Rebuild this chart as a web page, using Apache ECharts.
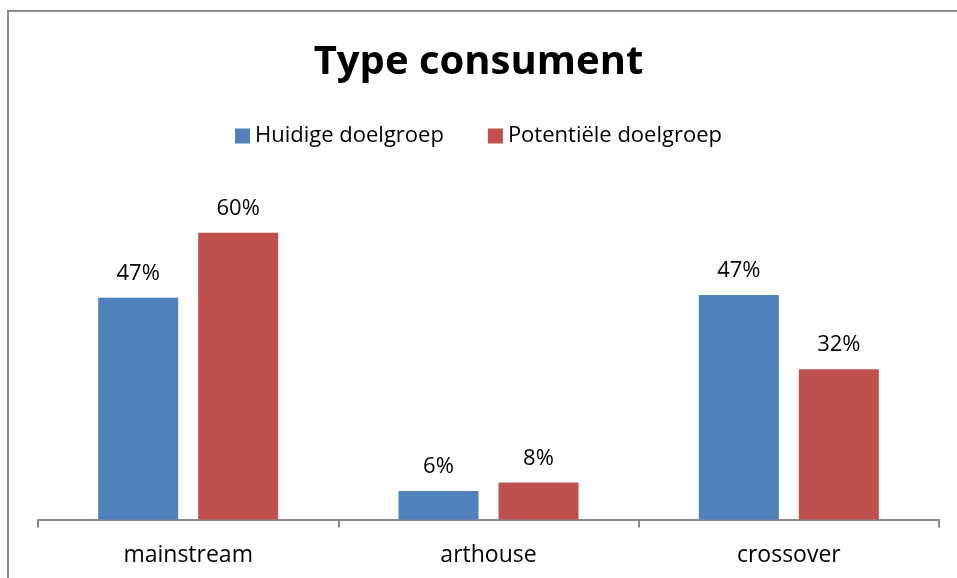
<!DOCTYPE html>
<html>
<head>
<meta charset="utf-8">
<script src="https://cdn.jsdelivr.net/npm/echarts@6/dist/echarts.min.js"></script>
<style>
html,body{margin:0;padding:0;background:#fff;overflow:hidden;}
#chart{width:957px;height:578px;}
</style>
</head>
<body>
<div id="chart"></div>
<script>
const categories = ['mainstream', 'arthouse', 'crossover'];
const seriesNames = ['Huidige doelgroep', 'Potentiële doelgroep'];
const huidige = [0.466, 0.06, 0.472];
const potentiele = [0.603, 0.078, 0.316];
const colors = ['#4F81BD', '#C0504D'];

const font = 'Open Sans';
const chart = echarts.init(document.getElementById('chart'));
const labelCfg = {
  show: true,
  position: 'top',
  distance: 13,
  fontFamily: font,
  fontSize: 22,
  color: '#000',
  formatter: p => Math.round(p.value * 100) + '%'
};
chart.setOption({
  animation: false,
  graphic: [{
    type: 'line',
    shape: { x1: 8, y1: 11, x2: 8, y2: 578 },
    style: { stroke: '#8a8a8a', lineWidth: 2 },
    silent: true
  }, {
    type: 'line',
    shape: { x1: 7, y1: 11, x2: 957, y2: 11 },
    style: { stroke: '#8a8a8a', lineWidth: 2 },
    silent: true
  }],
  title: {
    text: 'Type consument',
    left: 'center',
    top: 38,
    textStyle: { fontFamily: font, fontSize: 40, fontWeight: 'bold', color: '#000' }
  },
  legend: {
    top: 120,
    left: 'center',
    itemWidth: 15,
    itemHeight: 15,
    itemGap: 44,
    icon: 'rect',
    textStyle: { fontFamily: font, fontSize: 22, color: '#000' },
    data: seriesNames
  },
  grid: { left: 38, right: 18, top: 186.5, bottom: 58.5, containLabel: false },
  xAxis: {
    type: 'category',
    data: categories,
    axisLine: { lineStyle: { color: '#888', width: 2 } },
    axisTick: { show: true, length: 8, lineStyle: { color: '#888', width: 2 } },
    axisLabel: { fontFamily: font, fontSize: 23, color: '#000', margin: 24 }
  },
  yAxis: {
    type: 'value',
    min: 0,
    max: 0.7,
    show: false,
    splitLine: { show: false }
  },
  series: [
    { name: seriesNames[0], type: 'bar', data: huidige, itemStyle: { color: colors[0] },
      barWidth: 80, barGap: '25%', label: labelCfg },
    { name: seriesNames[1], type: 'bar', data: potentiele, itemStyle: { color: colors[1] },
      barWidth: 80, barGap: '25%', label: labelCfg }
  ]
});
</script>
</body>
</html>
